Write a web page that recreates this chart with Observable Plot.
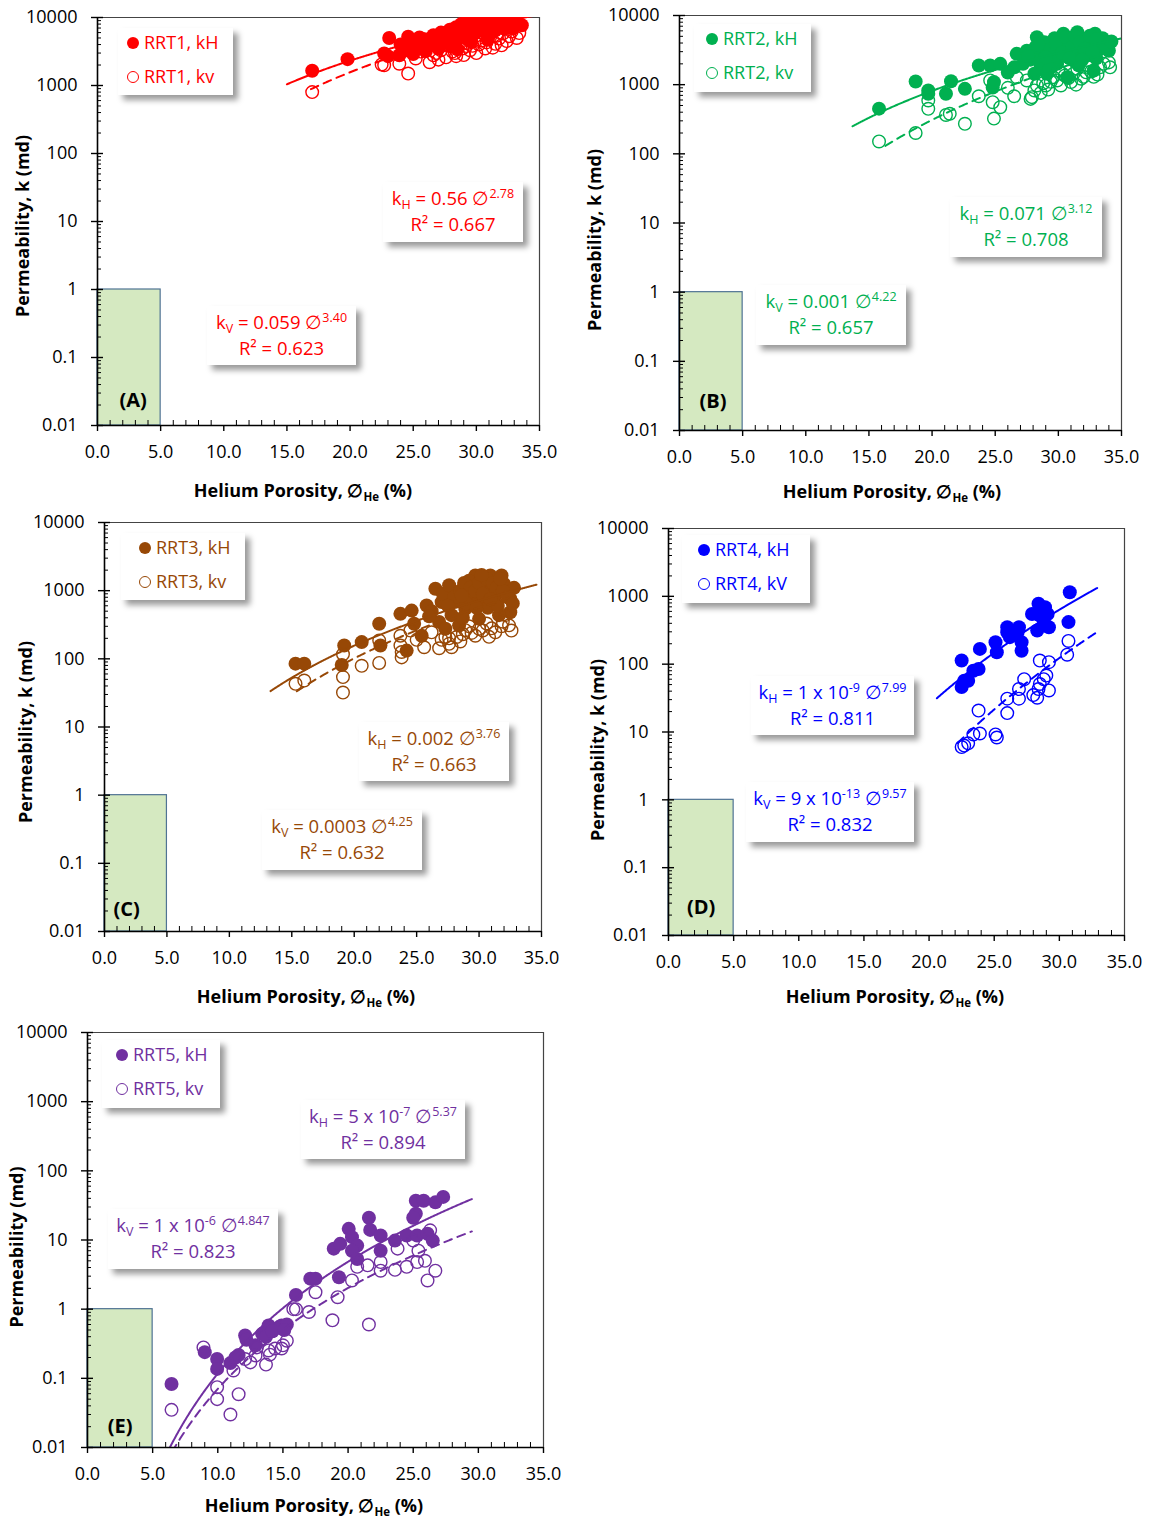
<!DOCTYPE html>
<html><head><meta charset="utf-8">
<script src="https://cdn.jsdelivr.net/npm/d3@7"></script>
<script src="https://cdn.jsdelivr.net/npm/@observablehq/plot@0.6"></script>
<style>
body{margin:0;background:#fff;}
#root{position:relative;width:1157px;height:1519px;font-family:"Open Sans",sans-serif;overflow:hidden;}
.panel{position:absolute;}
.legend{position:absolute;background:#fff;box-shadow:5px 5px 6px rgba(0,0,0,.4);font-size:18px;}
.legend .row{position:absolute;left:0;white-space:nowrap;line-height:22px;}
.legend .mk{position:absolute;width:12px;height:12px;border-radius:50%;box-sizing:border-box;}
.eq{position:absolute;background:#fff;box-shadow:5px 5px 6px rgba(0,0,0,.4);text-align:center;font-size:18.5px;line-height:26px;padding-top:3px;box-sizing:border-box;white-space:nowrap;}
.eq sub{font-size:12.5px;vertical-align:-4px;line-height:0}
.eq sup{font-size:12.5px;vertical-align:7px;line-height:0}
.xt{position:absolute;font-weight:bold;font-size:18px;transform:translate(-50%,-50%);white-space:nowrap;line-height:20px;}
.xt sub{font-size:11.5px;vertical-align:-4px;line-height:0}
.yt{position:absolute;font-weight:bold;font-size:18px;transform:translate(-50%,-50%) rotate(-90deg);white-space:nowrap;}
</style>
</head><body><div id="root"></div>
<script>
// ---------------- DATA ----------------
const xTicks = [0, 5, 10, 15, 20, 25, 30, 35];
const yTicks = [0.01, 0.1, 1, 10, 100, 1000, 10000];
const panelLetters = ["(A)", "(B)", "(C)", "(D)", "(E)"];
const seriesNames = ["RRT1", "RRT2", "RRT3", "RRT4", "RRT5"];
const seriesColors = ["#ff0000", "#00b050", "#974806", "#0000ff", "#7030a0"];
const legendKH = ["RRT1, kH", "RRT2, kH", "RRT3, kH", "RRT4, kH", "RRT5, kH"];
const legendKV = ["RRT1, kv", "RRT2, kv", "RRT3, kv", "RRT4, kV", "RRT5, kv"];
const yTitles = ["Permeability, k (md)", "Permeability, k (md)", "Permeability, k (md)", "Permeability, k (md)", "Permeability (md)"];
const lowPermBox = {x1: 0, x2: 5, y1: 0.01, y2: 1};

// power-law fits  k = a * phi^b (from the chart's equations)
const fitKH_a = [0.56, 0.071, 0.002, 1e-9, 5e-7];
const fitKH_b = [2.78, 3.12, 3.76, 7.99, 5.37];
const fitKV_a = [0.059, 0.001, 0.0003, 9e-13, 1e-6];
const fitKV_b = [3.40, 4.22, 4.25, 9.57, 4.847];
const fitKH_range = [[15.0, 34.8], [13.7, 35.0], [13.3, 34.6], [20.6, 32.9], [6.0, 29.5]];
const fitKV_range = [[16.9, 33.5], [16.3, 34.6], [15.4, 32.5], [22.2, 32.9], [6.5, 29.5]];
const eqKH = [
  ["k<sub>H</sub> = 0.56 ∅<sup>2.78</sup>", "R² = 0.667"],
  ["k<sub>H</sub> = 0.071 ∅<sup>3.12</sup>", "R² = 0.708"],
  ["k<sub>H</sub> = 0.002 ∅<sup>3.76</sup>", "R² = 0.663"],
  ["k<sub>H</sub> = 1 x 10<sup>-9</sup> ∅<sup>7.99</sup>", "R² = 0.811"],
  ["k<sub>H</sub> = 5 x 10<sup>-7</sup> ∅<sup>5.37</sup>", "R² = 0.894"]
];
const eqKV = [
  ["k<sub>V</sub> = 0.059 ∅<sup>3.40</sup>", "R² = 0.623"],
  ["k<sub>V</sub> = 0.001 ∅<sup>4.22</sup>", "R² = 0.657"],
  ["k<sub>V</sub> = 0.0003 ∅<sup>4.25</sup>", "R² = 0.632"],
  ["k<sub>V</sub> = 9 x 10<sup>-13</sup> ∅<sup>9.57</sup>", "R² = 0.832"],
  ["k<sub>V</sub> = 1 x 10<sup>-6</sup> ∅<sup>4.847</sup>", "R² = 0.823"]
];

// measured points [porosity %, permeability md]
const rrt1KH = [[17.0,1650],[19.8,2440],[22.7,2960],[23.1,5000],[23.9,2790],[24.5,3300],[24.6,5200],[25.2,4200],[25.6,3700],[25.9,4800],[26.3,3900],[26.6,5500],[26.9,4300],[27.2,6000],[27.4,4700],[27.7,5200],[27.9,6600],[28.2,4500],[28.4,7200],[28.6,5600],[28.8,8000],[29.0,6300],[29.2,4900],[29.3,8800],[29.5,7000],[29.7,9500],[29.9,5900],[30.0,8200],[30.2,9800],[30.3,6800],[30.5,9900],[30.6,7600],[30.8,9000],[31.0,5400],[31.1,8400],[31.3,9700],[31.5,6500],[31.6,9200],[31.8,7800],[32.0,9900],[32.2,6900],[32.4,8700],[32.7,9500],[33.0,8000],[33.6,7700],[28.0,3800],[29.6,4400],[30.9,4700],[26.0,3200],[27.0,3500],[28.5,3400],[24.0,4000],[25.0,2900],[23.0,2700],[26.2,4600],[27.5,5700],[28.1,6100],[28.9,7400],[29.4,6000],[29.8,8600],[30.1,7100],[30.4,8900],[30.7,6200],[31.2,7200],[31.9,8600],[32.5,7300],[33.2,9000],[27.1,4100],[28.3,5000],[29.1,5300],[30.0,6400],[31.4,8100],[32.9,6900],[25.5,5100]];
const rrt1KV = [[17.0,800],[22.5,2040],[22.7,1990],[23.9,2090],[24.6,1500],[25.6,3150],[26.6,2790],[27.2,3300],[27.6,2600],[28.1,3150],[28.4,2700],[28.9,3500],[29.3,4200],[29.7,3830],[30.0,3000],[30.4,4600],[30.7,3500],[31.1,5200],[31.5,4100],[31.8,4900],[32.1,5800],[32.4,4500],[32.8,6200],[33.2,5000],[26.0,3700],[27.0,2400],[28.6,4300],[29.9,5300],[30.9,6100],[25.2,2500],[26.3,2200],[29.0,2800],[31.3,3600],[32.0,3900],[27.9,3800],[28.3,3000],[29.5,3300],[30.2,4000],[30.8,4300],[31.6,5400],[32.6,5300],[33.4,5900],[26.8,3000],[29.2,3800]];
const rrt2KH = [[15.8,450],[18.7,1110],[19.7,825],[19.7,740],[21.1,740],[21.5,1120],[22.6,870],[23.7,1890],[24.6,1890],[25.4,2000],[24.8,910],[24.9,1090],[26.5,1780],[26.7,2790],[27.5,3100],[28.3,4850],[29.2,3680],[28.6,1780],[29.9,2000],[31.2,2230],[31.8,2790],[30.4,5440],[31.5,5740],[32.9,5440],[34.0,3100],[32.2,4600],[28.1,1440],[29.1,1440],[32.8,1600],[30.7,1280],[27.8,2300],[28.0,2700],[28.8,3000],[29.5,2600],[30.0,3300],[30.2,4200],[30.8,3800],[31.0,3000],[31.4,4400],[31.9,3500],[32.3,2700],[32.6,3900],[33.2,3200],[33.5,4700],[33.0,2400],[29.7,4700],[28.5,2200],[27.2,2000],[30.5,2600],[31.6,1900],[26.0,1500],[29.3,1700],[28.2,3500],[28.9,4100],[29.4,3300],[29.8,3900],[30.3,2900],[30.6,4900],[31.1,3500],[31.3,5000],[31.7,4100],[32.1,3300],[32.5,5100],[33.0,4500],[33.8,3600],[34.2,4200],[30.9,2400],[29.0,2500],[28.4,3800],[31.9,2300],[32.7,3000],[27.6,2600]];
const rrt2KV = [[15.8,151],[18.7,200],[19.7,590],[19.7,448],[21.1,365],[21.4,380],[22.6,272],[23.7,680],[24.6,1150],[24.8,558],[25.4,472],[24.9,323],[26.5,680],[26.7,1280],[27.9,660],[28.1,825],[28.3,975],[29.0,975],[30.2,975],[31.0,1090],[31.8,1220],[32.4,1780],[33.3,1780],[34.1,1780],[27.5,1150],[29.6,1280],[31.2,1440],[32.2,1510],[27.8,623],[28.6,760],[29.4,1100],[30.5,1350],[32.8,1300],[33.6,2000],[26.0,900],[30.0,1600],[31.5,1700],[29.2,850],[29.9,1150],[30.8,1250],[31.4,1000],[32.0,1300],[32.6,1550],[33.1,1400],[34.0,2100],[28.8,1050],[30.3,1450]];
const rrt3KH = [[15.3,85],[16.0,85],[19.2,157],[20.6,176],[19.0,81],[22.1,157],[22.0,327],[23.7,457],[24.6,510],[24.2,132],[25.8,605],[26.5,1065],[24.8,327],[25.4,218],[29.7,1670],[30.9,1670],[31.8,1670],[32.5,760],[32.5,483],[27.8,955],[28.9,1190],[27.0,680],[26.8,348],[27.8,437],[28.9,542],[30.2,680],[31.3,850],[28.4,309],[30.0,386],[31.6,437],[27.3,276],[29.2,1400],[30.4,1200],[31.0,1000],[32.0,1250],[29.5,800],[28.2,700],[30.7,560],[32.2,950],[26.2,500],[27.5,820],[29.9,950],[31.5,600],[28.7,400],[26.0,420],[32.8,1100],[27.1,900],[27.6,1200],[28.0,800],[28.5,1000],[28.8,1300],[29.3,1100],[29.7,1000],[30.0,1300],[30.3,900],[30.6,1500],[31.1,1300],[31.4,1100],[31.9,1000],[32.3,800],[32.7,650],[29.0,650],[29.8,560],[30.9,750],[27.5,600],[28.6,850],[31.7,1500],[30.2,1700]];
const rrt3KV = [[15.3,43],[16.0,48],[19.1,54],[19.1,32],[19.1,117],[20.6,79],[22.0,87],[22.0,186],[23.7,218],[23.7,157],[23.8,126],[23.8,105],[25.6,148],[26.8,143],[27.8,148],[27.6,166],[26.2,245],[28.2,209],[29.7,218],[31.3,245],[30.0,276],[32.1,437],[28.9,263],[27.3,209],[29.2,300],[30.6,330],[31.8,300],[32.6,260],[28.5,180],[27.0,190],[25.0,190],[24.5,260],[28.7,230],[29.4,240],[30.3,260],[31.0,280],[31.9,350],[32.4,310],[27.6,200],[30.8,210]];
const rrt4KH = [[22.5,113],[22.7,57],[22.5,46],[23.0,57],[23.4,80],[23.8,85],[23.9,168],[25.1,210],[25.2,150],[26.0,295],[26.0,351],[26.9,351],[26.8,295],[27.1,210],[27.1,158],[27.9,550],[28.4,776],[28.9,692],[29.1,550],[28.5,521],[28.3,313],[29.2,351],[28.8,440],[30.7,417],[30.8,1150],[26.2,250]];
const rrt4KV = [[22.5,6.0],[22.7,6.3],[23.0,6.8],[23.4,9.2],[23.9,9.5],[25.1,9.2],[25.2,8.3],[23.8,20.7],[26.0,19],[26.0,31],[26.9,31],[26.9,43],[27.3,60],[28.0,35],[28.3,32],[28.4,43],[28.5,51],[28.8,60],[29.0,68],[29.2,41],[28.5,113],[29.2,107],[30.7,220],[30.6,138]];
const rrt5KH = [[6.45,0.083],[9.0,0.239],[9.95,0.19],[9.95,0.137],[10.97,0.166],[11.36,0.20],[11.6,0.217],[12.1,0.417],[12.9,0.30],[13.9,0.58],[14.7,0.55],[13.4,0.44],[14.9,0.58],[13.7,0.40],[16.0,1.6],[14.8,0.54],[17.1,2.76],[17.5,2.76],[19.3,2.9],[18.9,7.5],[19.4,8.8],[20.05,14.5],[20.3,11],[20.7,8.3],[20.3,7.0],[20.7,5.3],[21.6,21],[21.7,14],[22.5,11.6],[22.5,7.0],[23.6,9.8],[24.5,11.6],[25.3,11.6],[26.1,12.3],[26.5,9.8],[25.2,37],[25.8,37],[26.7,35],[27.3,42],[25.2,24],[25.0,21],[12.2,0.36],[14.2,0.48],[15.3,0.6],[15.1,0.5]];
const rrt5KV = [[6.45,0.035],[8.9,0.28],[9.95,0.0745],[9.95,0.05],[10.97,0.030],[11.6,0.059],[11.2,0.13],[12.1,0.19],[12.9,0.214],[13.7,0.158],[13.9,0.253],[14.9,0.27],[14.4,0.27],[15.3,0.35],[16.0,1.0],[15.8,1.0],[17.0,0.91],[17.5,1.76],[18.8,0.69],[19.2,1.49],[20.3,2.6],[20.7,4.1],[21.5,4.3],[21.6,0.6],[22.5,3.6],[22.5,4.8],[23.6,3.7],[24.5,4.1],[25.3,4.8],[25.4,7.0],[25.9,5.0],[26.1,2.6],[26.7,3.6],[26.3,13.8],[25.0,9.8],[23.8,7.5],[13.0,0.28],[14.0,0.22],[15.0,0.3],[12.5,0.17]];
const pointsKH = [rrt1KH, rrt2KH, rrt3KH, rrt4KH, rrt5KH];
const pointsKV = [rrt1KV, rrt2KV, rrt3KV, rrt4KV, rrt5KV];

// ---------------- LAYOUT ----------------
const frames = [ // plot frame box in page pixels
  {L: 97, R: 539, T: 17, B: 425},
  {L: 679, R: 1121, T: 15, B: 430},
  {L: 104, R: 541, T: 522, B: 931},
  {L: 668, R: 1124, T: 528, B: 935},
  {L: 87, R: 543, T: 1032, B: 1447}
];
const letterOffset = [[4, -25], [2, -29], [-9, -22], [0, -28], [0, -21]];
const legendPos = [
  {l: 118, t: 28, w: 115, h: 67, m: 15}, {l: 694, t: 24, w: 117, h: 68, m: 18}, {l: 121, t: 533, w: 124, h: 67, m: 24},
  {l: 682, t: 535, w: 128, h: 68, m: 22}, {l: 102, t: 1040, w: 118, h: 68, m: 20}
];
const eqHPos = [
  {l: 383, t: 182, w: 140, h: 60}, {l: 950, t: 197, w: 152, h: 60}, {l: 359, t: 722, w: 150, h: 59},
  {l: 751, t: 676, w: 163, h: 59}, {l: 301, t: 1100, w: 164, h: 59}
];
const eqVPos = [
  {l: 207, t: 306, w: 149, h: 59}, {l: 756, t: 285, w: 150, h: 60}, {l: 262, t: 810, w: 160, h: 60},
  {l: 746, t: 782, w: 168, h: 60}, {l: 108, t: 1209, w: 170, h: 60}
];
const xTitlePos = [[303, 490], [892, 491], [306, 996], [895, 996], [314, 1505]];
const yTitlePos = [[22, 226], [594, 240], [25, 732], [597, 750], [16, 1247]];

const root = document.getElementById("root");
const FONT = '"Open Sans", sans-serif';
const yMinor = [];
for (let e = -2; e < 4; e++) for (let m = 2; m <= 9; m++) yMinor.push(m * Math.pow(10, e));
const xMinor = d3.range(0, 36, 1).filter(v => v % 5 !== 0);

function fitCurve(a, b, range) {
  return d3.range(range[0], range[1] + 1e-9, 0.05).map(p => ({p, k: a * Math.pow(p, b)}));
}

for (let i = 0; i < 5; i++) {
  const f = frames[i], c = seriesColors[i];
  const mL = 90, mR = 20, mT = 15, mB = 50;
  const W = f.R - f.L + mL + mR, H = f.B - f.T + mT + mB;
  const svg = Plot.plot({
    width: W, height: H,
    marginLeft: mL, marginRight: mR, marginTop: mT, marginBottom: mB,
    style: {fontFamily: FONT, fontSize: "18px", color: "#000", background: "transparent", overflow: "visible"},
    x: {domain: [0, 35]},
    y: {type: "log", domain: [0.01, 10000]},
    marks: [
      Plot.rect([lowPermBox], {x1: "x1", x2: "x2", y1: "y1", y2: "y2", fill: "#d5e9c1", stroke: "#4f7394", strokeWidth: 1.2}),
      Plot.ruleY([10000], {stroke: "#444", strokeWidth: 1.2}),
      Plot.ruleX([35], {stroke: "#444", strokeWidth: 1.2}),
      Plot.dot(pointsKH[i], {x: d => d[0], y: d => d[1], r: 7, fill: c, stroke: "none", clip: true}),
      Plot.dot(pointsKV[i], {x: d => d[0], y: d => d[1], r: 6.3, fill: "none", stroke: c, strokeWidth: 1.4, clip: true}),
      Plot.line(fitCurve(fitKH_a[i], fitKH_b[i], fitKH_range[i]), {x: "p", y: "k", stroke: c, strokeWidth: 2, clip: true}),
      Plot.line(fitCurve(fitKV_a[i], fitKV_b[i], fitKV_range[i]), {x: "p", y: "k", stroke: c, strokeWidth: 2, strokeDasharray: "8,6", clip: true}),
      Plot.ruleX([0], {stroke: "#000", strokeWidth: 1.6}),
      Plot.ruleY([0.01], {stroke: "#000", strokeWidth: 1.6}),
      Plot.axisY({ticks: yTicks, tickSize: 6, tickPadding: 14, tickFormat: d => String(d), label: null, strokeWidth: 1.4}),
      Plot.ruleY(yTicks, {y: d => d, x1: 0, x2: 0, insetRight: -6, stroke: "#000", strokeWidth: 1.4}),
      Plot.ruleY(yMinor, {y: d => d, x1: 0, x2: 0, insetRight: -4, stroke: "#000", strokeWidth: 1}),
      Plot.axisX({ticks: xTicks, tickSize: 6, tickPadding: 14, tickFormat: d => d.toFixed(1), label: null, strokeWidth: 1.4}),
      Plot.ruleX(xMinor, {x: d => d, y1: 0.01, y2: 0.01, insetTop: -5, stroke: "#000", strokeWidth: 1}),
      Plot.text([panelLetters[i]], {x: (lowPermBox.x1 + lowPermBox.x2) / 2, y: lowPermBox.y1, dx: letterOffset[i][0], dy: letterOffset[i][1], text: d => d, fontWeight: "bold", fontSize: 20, fill: "#000"})
    ]
  });
  svg.classList.add("panel");
  svg.style.left = (f.L - mL) + "px";
  svg.style.top = (f.T - mT) + "px";
  root.appendChild(svg);

  // legend
  const lg = document.createElement("div");
  lg.className = "legend";
  const lp = legendPos[i];
  Object.assign(lg.style, {left: lp.l + "px", top: lp.t + "px", width: lp.w + "px", height: lp.h + "px", color: c});
  [[legendKH[i], true, 15], [legendKV[i], false, 49]].forEach(([txt, filled, cy]) => {
    const mk = document.createElement("div");
    mk.className = "mk";
    Object.assign(mk.style, {left: (lp.m - 6) + "px", top: (cy - 6) + "px", background: filled ? c : "none", border: filled ? "none" : `1.5px solid ${c}`});
    lg.appendChild(mk);
    const row = document.createElement("div");
    row.className = "row";
    row.textContent = txt;
    Object.assign(row.style, {left: (lp.m + 11) + "px", top: (cy - 12) + "px"});
    lg.appendChild(row);
  });
  root.appendChild(lg);

  // equation boxes
  [[eqKH[i], eqHPos[i]], [eqKV[i], eqVPos[i]]].forEach(([lines, p]) => {
    const d = document.createElement("div");
    d.className = "eq";
    Object.assign(d.style, {left: p.l + "px", top: p.t + "px", width: p.w + "px", height: p.h + "px", color: c});
    d.innerHTML = lines.map(s => `<div>${s}</div>`).join("");
    root.appendChild(d);
  });

  // axis titles
  const xt = document.createElement("div");
  xt.className = "xt";
  xt.innerHTML = "Helium Porosity, ∅<sub>He</sub> (%)";
  Object.assign(xt.style, {left: xTitlePos[i][0] + "px", top: xTitlePos[i][1] + "px"});
  root.appendChild(xt);
  const yt = document.createElement("div");
  yt.className = "yt";
  yt.textContent = yTitles[i];
  Object.assign(yt.style, {left: yTitlePos[i][0] + "px", top: yTitlePos[i][1] + "px"});
  root.appendChild(yt);
}
</script></body></html>
